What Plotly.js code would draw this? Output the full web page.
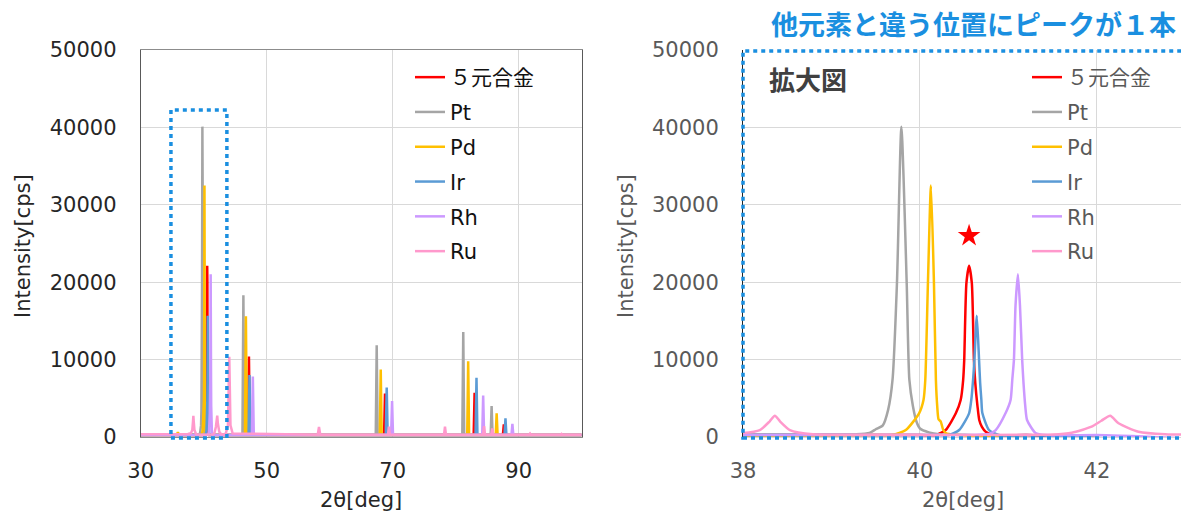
<!DOCTYPE html>
<html>
<head>
<meta charset="utf-8">
<script src="https://cdn.plot.ly/plotly-3.0.1.min.js"></script>
<style>html,body{margin:0;padding:0;background:#fff;}#chart{width:1181px;height:511px;}</style>
</head>
<body>
<div id="chart"></div>
<script>
// ---- data (2theta [deg], intensity [cps]) ----
const seriesNames = ['５元合金', 'Pt', 'Pd', 'Ir', 'Rh', 'Ru'];
const seriesColors = ['#ff0000', '#a5a5a5', '#ffc000', '#5b9bd5', '#cc99ff', '#ff99cc'];

const alloyX = [30, 40.00, 40.18, 40.29, 40.405, 40.46, 40.488, 40.50, 40.525, 40.555, 40.586, 40.61, 40.625, 40.65, 40.67, 40.70, 40.743, 40.856, 41.20, 47.03, 47.18, 47.33, 68.63, 68.78, 68.93, 82.85, 83.00, 83.15, 87.49, 87.64, 87.79, 100];
const alloyY = [250, 250, 260, 900, 3060, 4780, 7360, 9900, 19900, 22130, 19900, 9900, 7000, 4000, 2200, 1300, 680, 260, 250, 250, 10400, 250, 250, 5630, 250, 250, 5700, 250, 250, 1640, 250, 250];

const ptX = [30, 39.28, 39.43, 39.50, 39.58, 39.64, 39.69, 39.74, 39.79, 39.85, 39.88, 39.92, 39.96, 40.00, 40.10, 40.22, 40.50, 46.15, 46.30, 46.45, 67.31, 67.46, 67.61, 81.05, 81.20, 81.35, 85.55, 85.70, 85.85, 100];
const ptY = [250, 350, 520, 1000, 1500, 3500, 7400, 19900, 40100, 19900, 7400, 4000, 2000, 1100, 600, 350, 300, 250, 18300, 250, 250, 11850, 250, 250, 13570, 250, 250, 4000, 250, 250];

const pdX = [30, 35.7, 35.9, 36.1, 39.50, 39.69, 39.84, 39.99, 40.04, 40.06, 40.09, 40.124, 40.158, 40.18, 40.195, 40.21, 40.235, 40.26, 40.29, 40.40, 46.55, 46.70, 46.85, 67.95, 68.10, 68.25, 81.83, 81.98, 82.13, 86.35, 86.50, 86.65, 100];
const pdY = [250, 250, 600, 250, 250, 280, 900, 3060, 4780, 7360, 19900, 32480, 19900, 7360, 4000, 2300, 2000, 1000, 520, 300, 250, 15600, 250, 250, 8720, 250, 250, 9800, 250, 250, 3050, 250, 250];

const irX = [30, 40.20, 40.33, 40.443, 40.555, 40.58, 40.60, 40.615, 40.642, 40.668, 40.68, 40.694, 40.705, 40.78, 40.893, 41.20, 47.12, 47.27, 47.42, 68.90, 69.05, 69.20, 83.15, 83.30, 83.45, 87.75, 87.90, 88.05, 100];
const irY = [250, 250, 260, 900, 3060, 4780, 7360, 9900, 15670, 9900, 7000, 4780, 3100, 900, 260, 250, 250, 8000, 250, 250, 6400, 250, 250, 7650, 250, 250, 2400, 250, 250];

const rhX = [30, 40.50, 40.78, 40.856, 40.968, 41.024, 41.043, 41.062, 41.08, 41.107, 41.13, 41.155, 41.17, 41.19, 41.21, 41.306, 41.42, 42.00, 47.65, 47.80, 47.95, 69.75, 69.90, 70.05, 84.21, 84.36, 84.51, 88.85, 89.00, 89.15, 100];
const rhY = [250, 250, 390, 900, 3100, 4780, 7360, 10000, 17000, 21020, 17000, 10000, 7000, 4000, 2200, 520, 260, 250, 250, 7800, 250, 250, 4640, 250, 250, 5370, 250, 250, 1710, 250, 250];

const ruX = [30, 37.50, 37.97, 38.19, 38.30, 38.36, 38.42, 38.53, 38.79, 39.50, 41.50, 41.716, 41.94, 42.05, 42.15, 42.244, 42.47, 42.77, 43.20, 43.50, 43.85, 44.06, 44.25, 44.60, 58.10, 58.30, 58.50, 69.25, 69.40, 69.55, 78.15, 78.30, 78.45, 84.35, 84.50, 84.65, 85.65, 85.80, 85.95, 91.65, 91.80, 91.95, 96.65, 96.80, 96.95, 100];
const ruY = [350, 380, 480, 900, 2000, 2750, 2000, 900, 350, 300, 330, 560, 1330, 2100, 2750, 1770, 680, 350, 330, 450, 1500, 10350, 1500, 450, 300, 1300, 300, 300, 1330, 300, 300, 1330, 300, 300, 1400, 300, 300, 1120, 300, 300, 450, 300, 300, 400, 300, 300];

// the new peak of the alloy, marked with a star
const starX = [40.555];
const starY = [26000];

const leftXTicks = [30, 50, 70, 90];
const rightXTicks = [38, 40, 42];
const yTicks = [0, 10000, 20000, 30000, 40000, 50000];

const titleText = '他元素と違う位置にピークが１本';
const zoomLabel = '拡大図';
const xTitle = '2θ[deg]';
const yTitle = 'Intensity[cps]';

// ---- build traces ----
const allX = [alloyX, ptX, pdX, irX, rhX, ruX];
const allY = [alloyY, ptY, pdY, irY, rhY, ruY];
const FONT = 'DejaVu Sans, Verdana, Noto Sans CJK JP, sans-serif';
const traces = [];
for (let i = 0; i < seriesNames.length; i++) {
  traces.push({
    type: 'scatter', mode: 'lines', x: allX[i], y: allY[i],
    name: seriesNames[i], xaxis: 'x', yaxis: 'y',
    line: {color: seriesColors[i], width: 2.5},
    legend: 'legend', legendgroup: 'l' + i
  });
}
for (let i = 0; i < seriesNames.length; i++) {
  traces.push({
    type: 'scatter', mode: 'lines', x: allX[i], y: allY[i],
    name: seriesNames[i], xaxis: 'x2', yaxis: 'y2',
    line: {color: seriesColors[i], width: 2.5, shape: 'spline', smoothing: 0.6},
    legend: 'legend2', legendgroup: 'r' + i
  });
}
traces.push({
  type: 'scatter', mode: 'markers', x: starX, y: starY, xaxis: 'x2', yaxis: 'y2',
  marker: {symbol: 'star', size: 17, color: '#ff0000'}, showlegend: false, hoverinfo: 'skip'
});

const W = 1181, H = 511;
const px = v => v / W, py = v => (H - v) / H;
const BLUE = '#1a8fe0';

const axisFont = {family: FONT, size: 21, color: '#262626'};
const axisFont2 = {family: FONT, size: 21, color: '#595959'};

const layout = {
  width: W, height: H,
  margin: {l: 0, r: 0, t: 0, b: 0},
  paper_bgcolor: '#fff', plot_bgcolor: '#fff',
  font: {family: FONT},
  xaxis: {
    domain: [px(140.7), px(581.7)], range: [30, 100],
    tickvals: leftXTicks, ticks: '', ticklabelstandoff: 15,
    tickfont: axisFont, showgrid: true, gridcolor: '#d9d9d9', gridwidth: 1,
    showline: true, mirror: true, linecolor: '#8c8c8c', linewidth: 1, zeroline: false
  },
  yaxis: {
    domain: [py(437), py(50)], range: [0, 50000],
    tickvals: yTicks, tickformat: 'd', ticks: '', ticklabelstandoff: 19,
    tickfont: axisFont, showgrid: true, gridcolor: '#d9d9d9', gridwidth: 1,
    showline: true, mirror: true, linecolor: '#595959', linewidth: 1, zeroline: false
  },
  xaxis2: {
    domain: [px(743), 1], range: [38, 42.95], anchor: 'y2',
    tickvals: rightXTicks, ticks: '', ticklabelstandoff: 15,
    tickfont: axisFont2, showgrid: true, gridcolor: '#d9d9d9', gridwidth: 1,
    showline: true, linecolor: '#d9d9d9', zeroline: false
  },
  yaxis2: {
    domain: [py(437), py(50)], range: [0, 50000], anchor: 'x2',
    tickvals: yTicks, tickformat: 'd', ticks: '', ticklabelstandoff: 19,
    tickfont: axisFont2, showgrid: true, gridcolor: '#d9d9d9', gridwidth: 1,
    showline: true, linecolor: '#262626', linewidth: 1, zeroline: false
  },
  legend: {
    x: px(410), y: py(57), xanchor: 'left', yanchor: 'top',
    bgcolor: 'rgba(0,0,0,0)', traceorder: 'grouped', tracegroupgap: 4.5,
    font: {family: FONT, size: 21, color: '#111'}
  },
  legend2: {
    x: px(1027), y: py(57), xanchor: 'left', yanchor: 'top',
    bgcolor: 'rgba(0,0,0,0)', traceorder: 'grouped', tracegroupgap: 4.5,
    font: {family: FONT, size: 21, color: '#595959'}
  },
  shapes: [
    {type: 'rect', xref: 'x', yref: 'paper', x0: 34.8, x1: 43.68, y0: py(438), y1: py(110),
     line: {color: BLUE, width: 3.5, dash: '4px,4px'}},
    {type: 'rect', xref: 'paper', yref: 'paper', x0: px(743), x1: 1.02, y0: py(438), y1: py(51),
     line: {color: BLUE, width: 3.5, dash: '4px,4px'}}
  ],
  annotations: [
    {text: '<b>' + titleText + '</b>', xref: 'paper', yref: 'paper', x: px(1178), y: py(23),
     xanchor: 'right', yanchor: 'middle', showarrow: false,
     font: {family: 'Noto Sans CJK JP, sans-serif', size: 27, color: BLUE}},
    {text: '<b>' + zoomLabel + '</b>', xref: 'paper', yref: 'paper', x: px(767), y: py(78),
     xanchor: 'left', yanchor: 'middle', showarrow: false,
     font: {family: 'Noto Sans CJK JP, sans-serif', size: 26, color: '#404040'}},
    {text: xTitle, xref: 'paper', yref: 'paper', x: px(361), y: py(500),
     xanchor: 'center', yanchor: 'middle', showarrow: false, font: axisFont},
    {text: xTitle, xref: 'paper', yref: 'paper', x: px(963), y: py(500),
     xanchor: 'center', yanchor: 'middle', showarrow: false, font: axisFont2},
    {text: yTitle, xref: 'paper', yref: 'paper', x: px(23), y: py(246), textangle: -90,
     xanchor: 'center', yanchor: 'middle', showarrow: false, font: axisFont},
    {text: yTitle, xref: 'paper', yref: 'paper', x: px(626), y: py(246), textangle: -90,
     xanchor: 'center', yanchor: 'middle', showarrow: false, font: axisFont2}
  ]
};

Plotly.newPlot('chart', traces, layout, {staticPlot: true, displayModeBar: false});
</script>
</body>
</html>
